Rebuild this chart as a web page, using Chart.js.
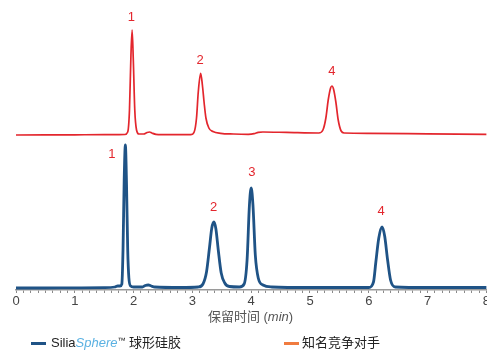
<!DOCTYPE html>
<html>
<head>
<meta charset="utf-8">
<script src="https://cdn.jsdelivr.net/npm/chart.js@4"></script>
<style>
  html,body{margin:0;padding:0;background:#fff;overflow:hidden;}
  #wrap{position:relative;width:487px;height:352px;overflow:hidden;font-family:"Liberation Sans","Noto Sans CJK SC",Arial,sans-serif;}
  #cbox{position:absolute;left:0;top:0;width:491px;height:352px;}
  #xtitle{position:absolute;left:0;width:501px;top:308px;text-align:center;font-size:13px;color:#555;line-height:18px;white-space:nowrap;}
  .leg{position:absolute;top:334px;height:18px;line-height:18px;font-size:13px;color:#222;white-space:nowrap;}
  .sw{position:absolute;top:8px;height:3px;width:15px;}
  .sph{color:#5ab1e2;font-style:italic;}
  sup{font-size:8px;vertical-align:top;position:relative;top:-2px;}
</style>
</head>
<body>
<div id="wrap">
  <div id="cbox"><canvas id="c" width="491" height="352"></canvas></div>
  <div id="xtitle">保留时间 (<i>min</i>)</div>
  <div class="leg" style="left:31px;"><span class="sw" style="left:0;background:#1f5386;"></span><span style="padding-left:20px;">Silia<span class="sph">Sphere</span><sup>™</sup> 球形硅胶</span></div>
  <div class="leg" style="left:284px;"><span class="sw" style="left:0;background:#f07b3f;"></span><span style="padding-left:18px;">知名竞争对手</span></div>
</div>
<script>
// Retention time (min) and detector signal (arbitrary units)
const blueTime = [0.00,0.50,1.00,1.50,1.68,1.73,1.77,1.80,1.82,1.84,1.86,1.88,1.90,1.92,1.95,2.00,2.15,2.20,2.25,2.30,2.36,2.80,3.10,3.18,3.24,3.29,3.33,3.366,3.40,3.44,3.49,3.55,3.63,3.80,3.88,3.93,3.97,4.00,4.03,4.07,4.12,4.20,4.35,5.00,6.00,6.08,6.12,6.17,6.226,6.27,6.32,6.37,6.45,7.00,8.00];
const blueSignal = [2,2,2.2,2.3,3,4,4,6,40,110,145,105,40,12,4,3,3,4.5,5,4,3,2.5,3,6,18,42,62,68,61,40,17,7,3.5,3,6,30,85,102,85,35,12,5,3,2.5,2.5,8,28,52,63,54,30,10,3,2.5,2.5];

const redTime = [0.00,1.00,1.50,1.85,1.90,1.93,1.955,1.975,1.995,2.02,2.05,2.09,2.17,2.23,2.27,2.31,2.38,2.60,2.97,3.03,3.07,3.10,3.14,3.17,3.20,3.23,3.28,3.35,3.48,3.70,3.95,4.05,4.12,4.20,4.60,5.15,5.22,5.27,5.31,5.35,5.373,5.40,5.44,5.48,5.53,5.58,6.00,7.00,8.00];
const redSignal = [155,155.2,155.3,155.5,158,180,235,260,230,180,160,156,156,157.5,158,157,155.7,155.3,155.3,158,172,198,216.7,205,187,172,162,158.5,156.7,156,155.7,156.3,157.6,158,157.6,157,160,172,190,202,204,201,188,170,159,157,156.7,156.2,155.7];

const peakText = ["1","2","4","1","2","3","4"];
const peakTime = [1.96,3.13,5.37,1.63,3.36,4.01,6.21];
const peakSignal = [273,230,219,136,83,118,79];

const xMin = 0, xMax = 8, xStep = 0.125;
const yMin = 0, yMax = 290;

function pts(t, v){ return t.map((x,i)=>({x:x,y:v[i]})); }

const peakLabelPlugin = {
  id:'peakLabels',
  afterDatasetsDraw(chart){
    const ctx = chart.ctx, xs = chart.scales.x, ys = chart.scales.y;
    ctx.save();
    ctx.font = '13px "Liberation Sans", Arial, sans-serif';
    ctx.fillStyle = '#e3262d';
    ctx.textAlign = 'center';
    ctx.textBaseline = 'middle';
    peakText.forEach((s,i)=>{
      ctx.fillText(s, xs.getPixelForValue(peakTime[i]), ys.getPixelForValue(peakSignal[i]));
    });
    ctx.restore();
  }
};

new Chart(document.getElementById('c'), {
  type:'line',
  data:{
    datasets:[
      {label:'知名竞争对手', data:pts(redTime, redSignal), borderColor:'#e3262d', borderWidth:1.7, pointRadius:0, cubicInterpolationMode:'monotone', fill:false, clip:false},
      {label:'SiliaSphere™ 球形硅胶', data:pts(blueTime, blueSignal), borderColor:'#1f5386', borderWidth:2.8, pointRadius:0, cubicInterpolationMode:'monotone', fill:false, clip:false}
    ]
  },
  options:{
    responsive:false,
    devicePixelRatio:1,
    animation:false,
    layout:{padding:{left:16,right:0,top:0,bottom:32}},
    plugins:{legend:{display:false},tooltip:{enabled:false}},
    scales:{
      x:{
        type:'linear', min:xMin, max:xMax,
        afterFit(scale){ scale.height = 30; },
        ticks:{stepSize:xStep, autoSkip:false, maxRotation:0, padding:1, color:'#444',
          font:{size:13, family:'"Liberation Sans", Arial, sans-serif'},
          callback:(v)=> Number.isInteger(v) ? String(v) : ''},
        grid:{drawOnChartArea:false, drawTicks:true, tickLength:3, color:'#8a8a8a', lineWidth:1},
        border:{display:true, color:'#9a9a9a', width:1.5}
      },
      y:{type:'linear', min:yMin, max:yMax, display:false}
    }
  },
  plugins:[peakLabelPlugin]
});
</script>
</body>
</html>
